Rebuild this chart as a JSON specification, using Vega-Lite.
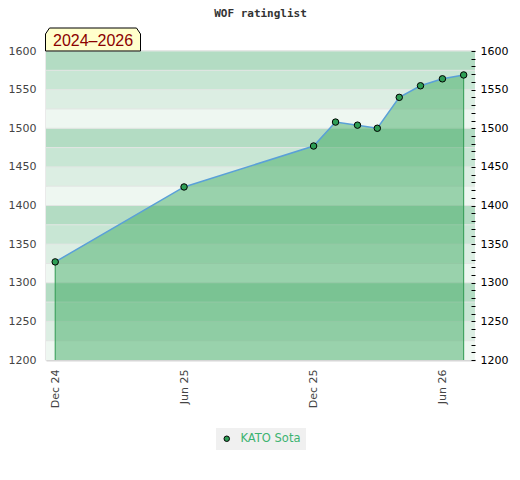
{
  "$schema": "https://vega.github.io/schema/vega-lite/v6.json",
  "width": 429,
  "height": 309,
  "padding": {"left": 8, "top": 8, "right": 5, "bottom": 5},
  "background": "white",
  "title": {"text": "WOF ratinglist", "font": "DejaVu Sans Mono", "fontSize": 11, "fontWeight": "bold", "color": "#333333", "anchor": "middle", "offset": 7},
  "datasets": {
    "bands": [
      {"lo": 1200, "hi": 1225, "tier": "q0"},
      {"lo": 1225, "hi": 1250, "tier": "q1"},
      {"lo": 1250, "hi": 1275, "tier": "q2"},
      {"lo": 1275, "hi": 1300, "tier": "q3"},
      {"lo": 1300, "hi": 1325, "tier": "q0"},
      {"lo": 1325, "hi": 1350, "tier": "q1"},
      {"lo": 1350, "hi": 1375, "tier": "q2"},
      {"lo": 1375, "hi": 1400, "tier": "q3"},
      {"lo": 1400, "hi": 1425, "tier": "q0"},
      {"lo": 1425, "hi": 1450, "tier": "q1"},
      {"lo": 1450, "hi": 1475, "tier": "q2"},
      {"lo": 1475, "hi": 1500, "tier": "q3"},
      {"lo": 1500, "hi": 1525, "tier": "q0"},
      {"lo": 1525, "hi": 1550, "tier": "q1"},
      {"lo": 1550, "hi": 1575, "tier": "q2"},
      {"lo": 1575, "hi": 1600, "tier": "q3"}
    ],
    "ratings": [
      {"date": "2024-12-01", "rating": 1327, "player": "KATO Sota"},
      {"date": "2025-06-01", "rating": 1424, "player": "KATO Sota"},
      {"date": "2025-12-01", "rating": 1477, "player": "KATO Sota"},
      {"date": "2026-01-01", "rating": 1508, "player": "KATO Sota"},
      {"date": "2026-02-01", "rating": 1504, "player": "KATO Sota"},
      {"date": "2026-03-01", "rating": 1500, "player": "KATO Sota"},
      {"date": "2026-04-01", "rating": 1540, "player": "KATO Sota"},
      {"date": "2026-05-01", "rating": 1555, "player": "KATO Sota"},
      {"date": "2026-06-01", "rating": 1564, "player": "KATO Sota"},
      {"date": "2026-07-01", "rating": 1569, "player": "KATO Sota"}
    ],
    "note": [{"label": "2024–2026"}]
  },
  "config": {
    "view": {"stroke": null},
    "axis": {"labelFont": "DejaVu Sans", "labelFontSize": 11, "title": null, "grid": false},
    "legend": {"layout": {"bottom": {"anchor": "middle"}}}
  },
  "layer": [
    {
      "data": {"name": "bands"},
      "mark": {"type": "rect"},
      "encoding": {
        "y": {"field": "lo", "type": "quantitative", "scale": {"domain": [1200, 1600], "nice": false, "zero": false},
              "axis": {"orient": "left", "values": [1200, 1250, 1300, 1350, 1400, 1450, 1500, 1550, 1600], "format": "d", "ticks": false, "labelPadding": 10, "labelColor": "#444444", "domain": true, "domainColor": "#d6d6d6", "domainWidth": 2}},
        "y2": {"field": "hi"},
        "color": {"field": "tier", "type": "nominal", "scale": {"domain": ["q0", "q1", "q2", "q3"], "range": ["#eef7f1", "#dceee3", "#c8e6d4", "#b3dcc3"]}, "legend": null}
      }
    },
    {
      "data": {"name": "bands"},
      "mark": {"type": "rule", "color": "#e2e5e3", "strokeWidth": 1},
      "encoding": {
        "y": {"field": "hi", "type": "quantitative", "scale": {"domain": [1200, 1600], "nice": false, "zero": false}, "axis": null}
      }
    },
    {
      "data": {"name": "ratings"},
      "mark": {"type": "area", "color": "#3aa85e", "fillOpacity": 0.47},
      "encoding": {
        "x": {"field": "date", "type": "temporal",
              "scale": {"type": "utc", "domain": [{"year": 2024, "month": 11, "date": 18, "utc": true}, {"year": 2026, "month": 7, "date": 17, "utc": true}]},
              "axis": {"orient": "bottom", "values": [{"year": 2024, "month": 12, "date": 1, "utc": true}, {"year": 2025, "month": 6, "date": 1, "utc": true}, {"year": 2025, "month": 12, "date": 1, "utc": true}, {"year": 2026, "month": 6, "date": 1, "utc": true}],
                       "format": "%b %y", "labelAngle": 270, "ticks": false, "labelPadding": 9, "labelColor": "#444444", "domainColor": "#d6d6d6", "domainWidth": 2}},
        "y": {"field": "rating", "type": "quantitative", "scale": {"domain": [1200, 1600], "nice": false, "zero": false}, "axis": null},
        "y2": {"datum": 1200}
      }
    },
    {
      "data": {"name": "ratings"},
      "mark": {"type": "line", "color": "#5aa0d8", "strokeWidth": 1.5},
      "encoding": {
        "x": {"field": "date", "type": "temporal", "axis": {"orient": "top", "labels": false, "ticks": false, "domain": true, "domainColor": "#d6d6d6", "domainWidth": 2}},
        "y": {"field": "rating", "type": "quantitative", "axis": null}
      }
    },
    {
      "data": {"name": "ratings"},
      "transform": [{"filter": "datum.rating == 1327 || datum.rating == 1569"}],
      "mark": {"type": "rule", "color": "#2f9a52", "strokeWidth": 1},
      "encoding": {
        "x": {"field": "date", "type": "temporal", "axis": null},
        "y": {"field": "rating", "type": "quantitative", "axis": null},
        "y2": {"datum": 1200}
      }
    },
    {
      "data": {"name": "ratings"},
      "mark": {"type": "point", "shape": "circle", "filled": true, "size": 42, "stroke": "#000000", "strokeWidth": 1, "opacity": 1},
      "encoding": {
        "x": {"field": "date", "type": "temporal", "axis": null},
        "y": {"field": "rating", "type": "quantitative",
              "axis": {"orient": "right", "values": [1200,1210,1220,1230,1240,1250,1260,1270,1280,1290,1300,1310,1320,1330,1340,1350,1360,1370,1380,1390,1400,1410,1420,1430,1440,1450,1460,1470,1480,1490,1500,1510,1520,1530,1540,1550,1560,1570,1580,1590,1600],
                       "format": "d", "labelExpr": "datum.value % 50 == 0 ? datum.label : ''", "offset": -4, "tickSize": 4, "tickColor": "#000000", "tickWidth": 1, "labelPadding": 5, "labelColor": "#000000", "domain": false, "zindex": 1}},
        "color": {"field": "player", "type": "nominal", "scale": {"range": ["#2e9e55"]},
                  "legend": {"orient": "bottom", "direction": "horizontal", "title": null, "fillColor": "#f0f0f0", "padding": 5, "offset": 20, "labelColor": "#3cb371", "labelFont": "DejaVu Sans", "labelFontSize": 11.5, "labelOffset": 8, "symbolType": "circle", "symbolSize": 30, "symbolStrokeColor": "#000000", "symbolStrokeWidth": 1}}
      }
    },
    {
      "data": {"name": "note"},
      "mark": {"type": "point", "shape": "M-1,0.242L-1,-0.116L-0.916,-0.242L0.916,-0.242L1,-0.116L1,0.242Z", "size": 9025, "filled": true, "fill": "#ffffcc", "stroke": "#000000", "strokeWidth": 1, "opacity": 1, "xOffset": 47, "yOffset": -11.5},
      "encoding": {
        "x": {"datum": {"year": 2024, "month": 11, "date": 18, "utc": true}, "type": "temporal", "axis": null},
        "y": {"datum": 1600, "type": "quantitative", "axis": null}
      }
    },
    {
      "data": {"name": "note"},
      "mark": {"type": "text", "font": "Liberation Sans", "fontSize": 16, "color": "#8b0000", "align": "left", "baseline": "alphabetic", "dx": 7, "dy": -5},
      "encoding": {
        "x": {"datum": {"year": 2024, "month": 11, "date": 18, "utc": true}, "type": "temporal", "axis": null},
        "y": {"datum": 1600, "type": "quantitative", "axis": null},
        "text": {"field": "label"}
      }
    }
  ],
  "resolve": {"scale": {"color": "independent"}, "axis": {"x": "independent", "y": "independent"}}
}
